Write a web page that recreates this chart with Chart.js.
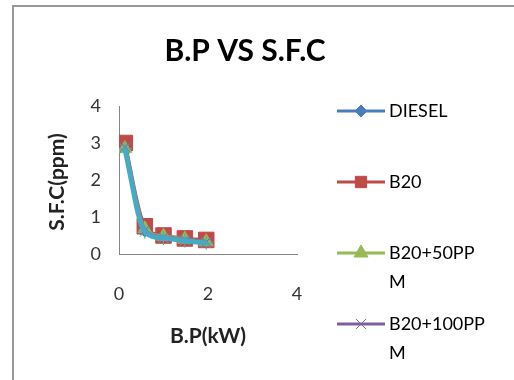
<!DOCTYPE html>
<html>
<head>
<meta charset="utf-8">
<title>B.P VS S.F.C</title>
<script src="https://cdn.jsdelivr.net/npm/chart.js@4.4.1/dist/chart.umd.min.js"></script>
<style>
  html, body { margin: 0; padding: 0; background: #fff; }
  #wrap { width: 514px; height: 380px; position: relative; }
</style>
</head>
<body>
<div id="wrap"><canvas id="sfcChart" width="514" height="380"></canvas></div>
<script>
// dados
const chartTitle = 'B.P VS S.F.C';
const xTitle = 'B.P(kW)';
const yTitle = 'S.F.C(ppm)';
const bpValues = [0.13, 0.58, 1.0, 1.48, 1.96]; // B.P (kW)
const seriesNames = ['DIESEL', 'B20', 'B20+50PPM', 'B20+100PPM', 'B20+150PPM'];
const diesel = [2.9, 0.62, 0.45, 0.38, 0.32];
const b20 = [3.0, 0.75, 0.5, 0.42, 0.38];
const b20p50 = [2.85, 0.68, 0.48, 0.4, 0.33];
const b20p100 = [2.9, 0.65, 0.46, 0.39, 0.33];
const b20p150 = [2.85, 0.6, 0.43, 0.36, 0.3];
const xTicks = [0, 2, 4];
const yTicks = [0, 1, 2, 3, 4];

const FONT = 'Lato, "Open Sans", sans-serif';

function pontos(ys) {
    return bpValues.map((x, i) => ({ x: x, y: ys[i] }));
}

// a última série fica por cima (como no Excel)
function serie(i, ys, cor, estilo, raio, espessura) {
    return {
        label: seriesNames[i],
        data: pontos(ys),
        order: 10 - i,
        borderColor: cor,
        backgroundColor: cor,
        borderWidth: espessura,
        pointStyle: estilo,
        pointRadius: raio,
        pointBorderWidth: 1,
        pointBorderColor: cor,
        tension: 0.25,
        cubicInterpolationMode: 'monotone'
    };
}

// título, moldura, título do eixo Y e legenda desenhados à mão
const extras = {
    id: 'extras',
    beforeDraw(chart) {
        const ctx = chart.ctx;
        ctx.save();
        ctx.strokeStyle = '#999';
        ctx.lineWidth = 2;
        ctx.beginPath();
        ctx.moveTo(13, 400);
        ctx.lineTo(13, 6);
        ctx.lineTo(520, 6);
        ctx.stroke();
        ctx.restore();
    },
    afterDraw(chart) {
        const ctx = chart.ctx;
        ctx.save();
        ctx.fillStyle = '#000';
        ctx.font = 'bold 30px ' + FONT;
        ctx.textAlign = 'center';
        ctx.textBaseline = 'middle';
        ctx.fillText(chartTitle, 245, 51);

        ctx.save();
        ctx.translate(57, 182);
        ctx.rotate(-Math.PI / 2);
        ctx.font = 'bold 21px ' + FONT;
        ctx.fillStyle = '#222';
        ctx.fillText(yTitle, 0, 0);
        ctx.restore();

        ctx.font = '18px ' + FONT;
        ctx.textAlign = 'left';
        chart.data.datasets.forEach((ds, i) => {
            const y = 111 + i * 71;
            ctx.strokeStyle = ds.borderColor;
            ctx.lineWidth = 3;
            ctx.beginPath();
            ctx.moveTo(337, y);
            ctx.lineTo(385, y);
            ctx.stroke();
            ctx.fillStyle = ds.backgroundColor;
            ctx.lineWidth = 1;
            Chart.helpers.drawPoint(ctx, {
                pointStyle: ds.pointStyle,
                radius: Math.min(ds.pointRadius, 8),
                rotation: 0,
                borderWidth: 1
            }, 361, y);
            // quebra por caractere, largura da coluna da legenda
            const linhas = [];
            let atual = '';
            for (const c of ds.label) {
                if (ctx.measureText(atual + c).width > 100 && atual) {
                    linhas.push(atual);
                    atual = c;
                } else {
                    atual += c;
                }
            }
            linhas.push(atual);
            ctx.fillStyle = '#000';
            linhas.forEach((t, k) => ctx.fillText(t, 389, y + k * 29));
        });
        ctx.restore();
    }
};

new Chart(document.getElementById('sfcChart'), {
    type: 'line',
    data: {
        datasets: [
            serie(0, diesel, '#4A7EBB', 'rectRot', 6, 3.5),
            serie(1, b20, '#BE4B48', 'rect', 11, 3.5),
            serie(2, b20p50, '#98B954', 'triangle', 8, 3.5),
            serie(3, b20p100, '#7D60A0', 'crossRot', 7, 3.5),
            serie(4, b20p150, '#46AAC5', 'star', 7, 5)
        ]
    },
    options: {
        responsive: false,
        animation: false,
        layout: { padding: { left: 0, top: 106, right: 217, bottom: 0 } },
        plugins: {
            legend: { display: false },
            tooltip: { enabled: false }
        },
        scales: {
            x: {
                type: 'linear',
                min: 0,
                max: 4,
                afterBuildTicks: s => { s.ticks = xTicks.map(v => ({ value: v })); },
                afterFit: s => { s.height = 126; },
                grid: { display: false, drawTicks: false },
                border: { color: '#868686', width: 1 },
                ticks: { color: '#333', padding: 29, font: { family: FONT, size: 18 } },
                title: {
                    display: true,
                    text: xTitle,
                    color: '#222',
                    padding: 31,
                    font: { family: FONT, size: 21, weight: 'bold' }
                }
            },
            y: {
                min: 0,
                max: 4,
                afterBuildTicks: s => { s.ticks = yTicks.map(v => ({ value: v })); },
                afterFit: s => { s.width = 119; },
                grid: { display: false, drawTicks: false },
                border: { color: '#868686', width: 1 },
                ticks: { color: '#333', padding: 18, font: { family: FONT, size: 18 } },
                title: { display: false }
            }
        }
    },
    plugins: [extras]
});
</script>
</body>
</html>
